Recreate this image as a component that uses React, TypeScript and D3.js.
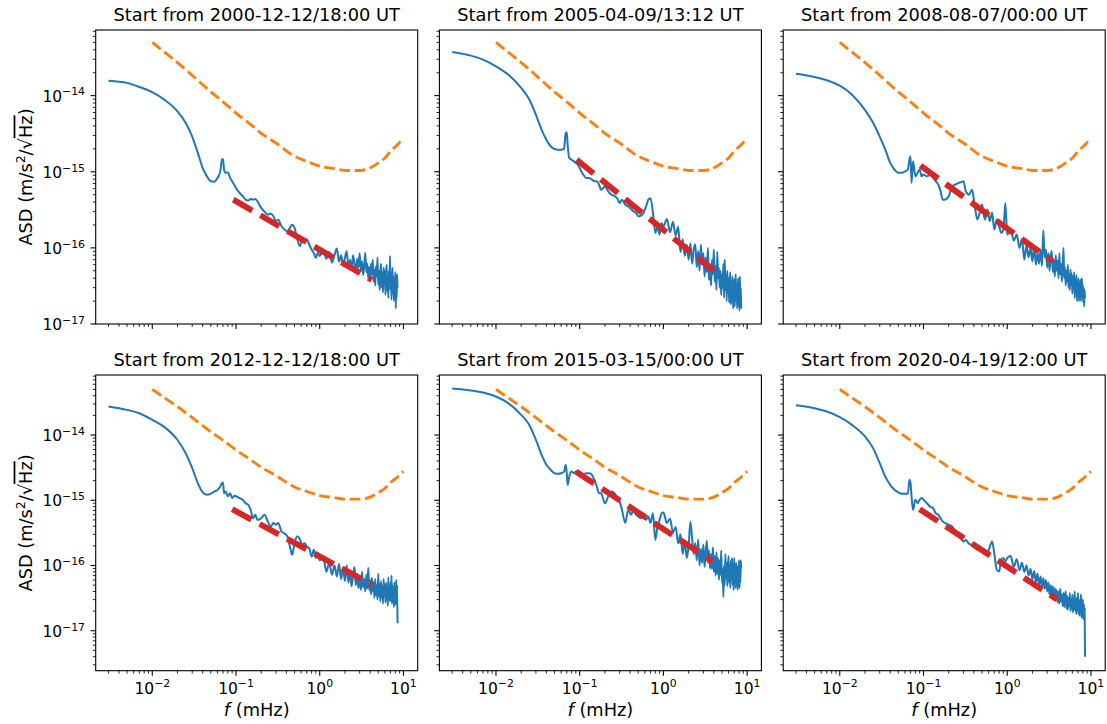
import React from 'react';
import * as d3 from 'd3';

// Frequencies (mHz) shared by all panels
const FREQ = [
  0.003, 0.005, 0.007, 0.01, 0.014, 0.02, 0.025, 0.03, 0.035, 0.04, 0.045, 0.05, 0.055, 0.06, 0.065,
  0.068, 0.07, 0.072, 0.075, 0.08, 0.085, 0.09, 0.095, 0.1, 0.11, 0.12, 0.13, 0.14, 0.15, 0.16, 0.17, 0.18,
  0.2, 0.22, 0.24, 0.26, 0.28, 0.3, 0.32, 0.35, 0.38, 0.41, 0.44, 0.47, 0.5, 0.54, 0.58, 0.62, 0.66, 0.7,
  0.75, 0.8, 0.85, 0.9, 0.95,
  1.0, 1.1, 1.2, 1.3, 1.4, 1.5, 1.6, 1.7, 1.8, 1.9,
  2.0, 2.1, 2.2, 2.3, 2.4, 2.5, 2.6, 2.7, 2.8, 2.9,
  3.0, 3.1, 3.2, 3.3, 3.4, 3.5, 3.6, 3.7, 3.8, 3.9,
  4.0, 4.1, 4.2, 4.3, 4.4, 4.5, 4.6, 4.7, 4.8, 4.9,
  5.0, 5.1, 5.2, 5.3, 5.4, 5.5, 5.6, 5.7, 5.8, 5.9,
  6.0, 6.1, 6.2, 6.3, 6.4, 6.5, 6.6, 6.7, 6.8, 6.9,
  7.0, 7.1, 7.2, 7.3, 7.4, 7.5, 7.6, 7.7, 7.8, 7.9,
  8.0, 8.1, 8.2, 8.3, 8.4, 8.5,
];

// ASD values in units of 1e-16 m/s^2/sqrt(Hz)
const ASD_2000 = [
  157, 147, 130, 111, 88, 62, 44, 29, 17.7, 11.2, 8.7, 7.5, 7.4, 8.3, 10.2,
  14.5, 14.7, 10.7, 9.7, 9.8, 8.3, 7.5, 6.8, 6.1, 5.3, 4.8, 4.3, 4.2, 4.4, 4.3, 4.4, 4.1, 3.35, 2.97, 2.74,
  2.8, 2.6, 2.24, 2.35, 1.92, 1.74, 1.66, 1.83, 2.02, 1.83, 1.29, 1.05, 1.35, 1.16, 1.29, 1.1, 0.95, 0.86, 0.74, 0.86,
  0.78, 0.95, 0.72, 0.88, 0.64, 0.8, 0.98, 0.66, 0.8, 0.58,
  0.74, 0.9, 0.56, 0.7, 0.52, 0.8, 0.62, 0.47, 0.72, 0.55,
  0.85, 0.5, 0.66, 0.44, 0.6, 0.86, 0.48, 0.62, 0.4, 0.56,
  0.38, 0.62, 0.45, 0.7, 0.36, 0.52, 0.32, 0.58, 0.42, 0.75,
  0.33, 0.5, 0.28, 0.46, 0.62, 0.3, 0.48, 0.26, 0.55, 0.34,
  0.5, 0.24, 0.45, 0.6, 0.27, 0.42, 0.22, 0.5, 0.3, 0.78,
  0.28, 0.46, 0.21, 0.4, 0.55, 0.25, 0.42, 0.2, 0.38, 0.27,
  0.48, 0.16, 0.4, 0.22, 0.45, 0.3,
];
const ASD_2005 = [
  374, 335, 297, 243, 189, 126, 89, 56, 35.8, 26.4, 21.6, 19.9, 19.5, 19.5, 19.9,
  32, 33, 21.6, 15.2, 14.4, 13.8, 13.0, 12.4, 11.2, 9.2, 8.3, 8.3, 7.9, 7.5, 7.5, 6.8, 5.8, 6.4, 5.5, 5.0,
  4.8, 4.5, 3.9, 4.3, 3.7, 3.5, 3.25, 3.0, 2.9, 2.6, 2.66, 2.9, 3.5, 4.3, 4.5, 2.9, 1.57, 1.9, 1.5, 2.13,
  1.9, 2.4, 1.6, 2.2, 1.45, 1.9, 0.88, 1.3, 0.78, 1.1,
  0.7, 1.15, 0.62, 0.95, 1.12, 0.56, 0.9, 0.5, 1.1, 0.6,
  0.85, 0.42, 0.75, 0.48, 1.0, 0.38, 0.62, 0.32, 0.7, 0.45,
  0.95, 0.36, 0.58, 0.28, 0.88, 0.4, 0.55, 0.3, 0.5, 0.24,
  0.45, 0.3, 0.62, 0.22, 0.7, 0.28, 0.45, 0.2, 0.5, 0.26,
  0.4, 0.19, 0.35, 0.48, 0.18, 0.32, 0.2, 0.42, 0.16, 0.3,
  0.38, 0.17, 0.28, 0.45, 0.2, 0.32, 0.16, 0.26, 0.4, 0.17,
  0.3, 0.15, 0.42, 0.2, 0.3, 0.16,
];
const ASD_2008 = [
  194, 176, 159, 135, 103, 65, 44, 29, 19.5, 13.1, 10.7, 9.7, 9.7, 10.1, 10.7,
  14.5, 16, 7.1, 13.7, 8.7, 9.7, 10.7, 8.7, 9.2, 8.7, 9.2, 8.3, 7.5, 6.8, 5.55, 4.3, 4.3, 4.76, 6.45, 6.8,
  7.1, 7.3, 7.5, 5.55, 5.0, 5.8, 3.5, 2.36, 2.9, 3.7, 2.36, 3.2, 2.24, 2.9, 1.74, 2.36, 1.92, 1.57, 1.74, 3.9,
  1.5, 1.7, 1.25, 1.5, 1.0, 1.3, 0.7, 1.1, 0.75, 1.0,
  0.66, 1.05, 0.6, 0.85, 0.62, 0.95, 0.58, 1.7, 0.75, 0.95,
  0.55, 0.85, 0.5, 0.78, 0.9, 0.48, 0.7, 0.42, 0.8, 0.5,
  0.68, 0.4, 0.85, 0.45, 0.62, 0.36, 0.55, 1.0, 0.4, 0.55,
  0.32, 0.5, 0.36, 0.6, 0.3, 0.45, 0.28, 0.52, 0.33, 0.46,
  0.25, 0.42, 0.3, 0.48, 0.22, 0.38, 0.26, 0.44, 0.2, 0.36,
  0.28, 0.4, 0.2, 0.34, 0.25, 0.38, 0.2, 0.32, 0.4, 0.22,
  0.33, 0.19, 0.3, 0.17, 0.28, 0.22,
];
const ASD_2012 = [
  274, 243, 216, 171, 132, 84, 53, 31, 18.3, 13.2, 12.1, 12.6, 13.6, 14.4, 16.3,
  18.3, 18.7, 12.8, 13.6, 11.5, 12.8, 10.8, 11.7, 11.5, 10.8, 10.2, 9.0, 8.5, 7.1, 5.3, 6.0, 5.0, 5.3, 6.0, 4.7,
  3.96, 4.5, 4.2, 4.5, 3.3, 3.1, 2.8, 1.95, 1.46, 2.2, 2.8, 2.5, 2.07, 2.2, 1.95, 1.84, 1.37, 1.74, 1.3, 1.55,
  1.2, 1.35, 0.8, 1.1, 0.72, 1.0, 0.68, 1.05, 0.62, 0.92,
  0.58, 1.0, 0.55, 0.82, 0.48, 0.7, 0.95, 0.5, 0.75, 0.45,
  0.68, 0.42, 0.8, 0.46, 0.62, 0.4, 0.72, 0.44, 0.92, 0.42,
  0.6, 0.36, 0.65, 0.4, 0.55, 0.32, 0.62, 0.35, 0.5, 0.3,
  0.75, 0.34, 0.52, 0.28, 0.58, 0.32, 0.48, 0.26, 0.62, 0.35,
  0.5, 0.27, 0.55, 0.3, 0.45, 0.24, 0.66, 0.3, 0.5, 0.28,
  0.55, 0.3, 0.7, 0.26, 0.5, 0.3, 0.45, 0.23, 0.55, 0.3,
  0.48, 0.25, 0.6, 0.3, 0.5, 0.13,
];
const ASD_2015 = [
  517, 482, 449, 390, 308, 204, 143, 84, 50, 35, 29.3, 26, 25.5, 26, 27.5,
  35, 26, 17.2, 23, 27.5, 26, 27.5, 26, 23, 24.5, 26, 26, 24.5, 20.5, 16.3, 12.8, 12.8, 9.0, 11.5, 13.6,
  12.8, 10.8, 9.6, 7.1, 4.5, 7.1, 6.0, 7.1, 6.0, 5.65, 5.3, 6.0, 5.0, 5.65, 4.5, 6.3, 2.47, 3.96, 5.0, 6.3,
  6.5, 4.5, 5.2, 3.2, 3.9, 2.2, 3.0, 1.5, 2.4, 1.3,
  2.0, 4.7, 2.6, 1.5, 2.2, 1.2, 2.5, 1.0, 1.8, 1.1,
  2.1, 0.95, 1.6, 2.4, 1.1, 1.7, 0.9, 1.5, 0.88, 1.9,
  0.8, 1.4, 0.7, 1.6, 0.75, 1.3, 0.6, 1.2, 0.72, 1.7,
  0.55, 0.9, 0.33, 1.0, 0.5, 1.5, 0.65, 1.1, 0.48, 0.9,
  1.4, 0.55, 1.0, 0.45, 1.2, 0.6, 1.3, 0.5, 0.95, 0.42,
  1.3, 0.55, 0.9, 0.45, 1.1, 0.5, 0.85, 0.42, 1.0, 0.5,
  1.2, 0.45, 0.85, 0.55, 1.2, 0.9,
];
const ASD_2020 = [
  287, 258, 229, 188, 143, 95, 63, 37, 23, 17.2, 14.5, 13.2, 12.6, 12.6, 12.6,
  20.6, 18.3, 11.5, 7.1, 10.2, 9.0, 10.2, 10.8, 10.2, 9.0, 8.0, 7.6, 6.3, 6.0, 5.3, 4.7, 4.5, 4.2, 3.96, 3.3,
  2.95, 2.6, 2.33, 2.47, 2.15, 2.07, 1.95, 1.74, 1.9, 1.74, 1.55, 1.55, 1.95, 2.33, 1.55, 0.86, 0.81, 1.22, 1.3, 1.15,
  1.3, 1.4, 0.95, 1.25, 0.85, 1.1, 0.8, 1.0, 0.7, 0.88,
  0.62, 0.82, 0.56, 0.75, 0.5, 0.68, 0.47, 0.64, 0.44, 0.6,
  0.4, 0.55, 0.36, 0.5, 0.34, 0.48, 0.3, 0.45, 0.3, 0.42,
  0.27, 0.4, 0.26, 0.44, 0.28, 0.36, 0.24, 0.38, 0.23, 0.34,
  0.4, 0.22, 0.34, 0.21, 0.32, 0.24, 0.38, 0.2, 0.3, 0.22,
  0.36, 0.19, 0.3, 0.21, 0.4, 0.2, 0.28, 0.18, 0.32, 0.2,
  0.38, 0.18, 0.28, 0.17, 0.3, 0.2, 0.36, 0.16, 0.26, 0.18,
  0.3, 0.15, 0.26, 0.18, 0.22, 0.04,
];

// Requirement curve (orange dashed), units of 1e-16
const REQ_F = [0.01, 0.015, 0.02, 0.03, 0.05, 0.07, 0.1, 0.15, 0.2, 0.3, 0.5, 0.7, 1, 1.5, 2, 3, 4, 5, 6, 7, 8.5, 10];
const REQ_V = [501, 350, 272, 185, 112, 83, 59, 41.6, 32, 23.9, 16, 13.7, 11.8, 11.0, 10.4, 10.4, 11.2, 13.1, 15.2, 18.6, 22.7, 27.8];

// Power-law fits (red dashed): start/end frequency and value (1e-16 units)
const FIT_F0 = [0.093, 0.092, 0.092, 0.09, 0.09, 0.09];
const FIT_F1 = [4.19, 4.0, 3.48, 4.19, 3.89, 3.96];
const FIT_V0 = [4.3, 14.4, 12.0, 7.3, 27.6, 7.3];
const FIT_V1 = [0.38, 0.5, 0.67, 0.51, 1.15, 0.3];

const TITLES = [
  'Start from 2000-12-12/18:00 UT',
  'Start from 2005-04-09/13:12 UT',
  'Start from 2008-08-07/00:00 UT',
  'Start from 2012-12-12/18:00 UT',
  'Start from 2015-03-15/00:00 UT',
  'Start from 2020-04-19/12:00 UT',
];
const SERIES = [ASD_2000, ASD_2005, ASD_2008, ASD_2012, ASD_2015, ASD_2020];

// Layout
const W = 1107;
const H = 724;
const COL_X = [95.7, 439.4, 783.2];
const AX_W = 322;
const ROW_Y = [30, 375];
const AX_H = [294, 295.7];
const X_DOMAIN: [number, number] = [0.00211, 14.8];
const Y_DOMAINS: [number, number][] = [[0.1, 728], [0.0244, 832]];

const FONT = 'DejaVu Sans, sans-serif';
const TICK_FS = 15.5;
const LABEL_FS = 17.8;
const BLUE = '#1f77b4';
const ORANGE = '#ff7f0e';
const RED = '#d62728';

function logTicks(domain: [number, number]) {
  const major: { v: number; e: number }[] = [];
  const minor: number[] = [];
  const e0 = Math.floor(Math.log10(domain[0])) - 1;
  const e1 = Math.ceil(Math.log10(domain[1])) + 1;
  for (let e = e0; e <= e1; e++) {
    for (let m = 1; m <= 9; m++) {
      const v = m * Math.pow(10, e);
      if (v < domain[0] * 0.9999 || v > domain[1] * 1.0001) continue;
      if (m === 1) major.push({ v, e });
      else minor.push(v);
    }
  }
  return { major, minor };
}

function expText(e: number) {
  return e < 0 ? '\u2212' + String(-e) : String(e);
}

function Panel({ idx }: { idx: number }) {
  const col = idx % 3;
  const row = Math.floor(idx / 3);
  const x0 = COL_X[col];
  const y0 = ROW_Y[row];
  const h = AX_H[row];
  const xs = d3.scaleLog().domain(X_DOMAIN).range([x0, x0 + AX_W]);
  const ys = d3.scaleLog().domain(Y_DOMAINS[row]).range([y0 + h, y0]);
  const data = SERIES[idx];

  const blueLine = d3
    .line<number>()
    .x((_, i) => xs(FREQ[i]))
    .y((d) => ys(d))
    .curve(d3.curveMonotoneX)(data) || '';
  const reqLine = d3
    .line<number>()
    .x((_, i) => xs(REQ_F[i]))
    .y((d) => ys(d))
    .curve(d3.curveMonotoneX)(REQ_V) || '';
  const fitLine = d3
    .line<[number, number]>()
    .x((d) => xs(d[0]))
    .y((d) => ys(d[1]))([
      [FIT_F0[idx], FIT_V0[idx]],
      [FIT_F1[idx], FIT_V1[idx]],
    ]) || '';

  const xt = logTicks(X_DOMAIN);
  const yt = logTicks(Y_DOMAINS[row]);
  const bottom = y0 + h;
  const clipId = `clip${idx}`;

  return (
    <g>
      <defs>
        <clipPath id={clipId}>
          <rect x={x0} y={y0} width={AX_W} height={h} />
        </clipPath>
      </defs>
      <g clipPath={`url(#${clipId})`}>
        <path d={blueLine} fill="none" stroke={BLUE} strokeWidth={2} strokeLinejoin="round" />
        <path d={reqLine} fill="none" stroke={ORANGE} strokeWidth={2.9} strokeDasharray="10.7 4.6" />
        <path d={fitLine} fill="none" stroke={RED} strokeWidth={5.9} strokeDasharray="21.8 9.4" />
      </g>
      <rect x={x0} y={y0} width={AX_W} height={h} fill="none" stroke="#000" strokeWidth={1.1} />
      {xt.major.map((t) => (
        <line key={'xM' + t.e} x1={xs(t.v)} x2={xs(t.v)} y1={bottom} y2={bottom + 5.1} stroke="#000" strokeWidth={1.1} />
      ))}
      {xt.minor.map((v, i) => (
        <line key={'xm' + i} x1={xs(v)} x2={xs(v)} y1={bottom} y2={bottom + 2.9} stroke="#000" strokeWidth={0.85} />
      ))}
      {yt.major.map((t) => (
        <line key={'yM' + t.e} x1={x0 - 5.1} x2={x0} y1={ys(t.v)} y2={ys(t.v)} stroke="#000" strokeWidth={1.1} />
      ))}
      {yt.minor.map((v, i) => (
        <line key={'ym' + i} x1={x0 - 2.9} x2={x0} y1={ys(v)} y2={ys(v)} stroke="#000" strokeWidth={0.85} />
      ))}
      {row === 1 &&
        xt.major.map((t) => (
          <text key={'xl' + t.e} x={xs(t.v)} y={bottom + 22.8} textAnchor="middle" fontFamily={FONT} fontSize={TICK_FS}>
            10
            <tspan dy={-6.2} fontSize={TICK_FS * 0.7}>
              {expText(t.e)}
            </tspan>
          </text>
        ))}
      {col === 0 &&
        yt.major.map((t) => (
          <text key={'yl' + t.e} x={x0 - 10.7} y={ys(t.v) + 6} textAnchor="end" fontFamily={FONT} fontSize={TICK_FS}>
            10
            <tspan dy={-6.2} fontSize={TICK_FS * 0.7}>
              {expText(t.e - 16)}
            </tspan>
          </text>
        ))}
      <text x={x0 + AX_W / 2} y={y0 - 9.3} textAnchor="middle" fontFamily={FONT} fontSize={LABEL_FS}>
        {TITLES[idx]}
      </text>
      {row === 1 && (
        <text x={x0 + AX_W / 2} y={716} textAnchor="middle" fontFamily={FONT} fontSize={LABEL_FS}>
          <tspan fontStyle="italic">f</tspan> (mHz)
        </text>
      )}
      {col === 0 && (
        <g transform={`translate(31.6, ${y0 + h / 2}) rotate(-90)`}>
          <text x={0} y={0} textAnchor="middle" fontFamily={FONT} fontSize={LABEL_FS}>
            ASD (m/s
            <tspan dy={-7} fontSize={LABEL_FS * 0.7}>2</tspan>
            <tspan dy={7}>/√</tspan>
            <tspan style={{ textDecoration: 'overline' }}>Hz</tspan>)
          </text>
        </g>
      )}
    </g>
  );
}

export default function App() {
  return (
    <svg
      width={W}
      height={H}
      viewBox={`0 0 ${W} ${H}`}
      style={{ position: 'absolute', left: 0, top: 0, background: '#fff' }}
    >
      <rect x={0} y={0} width={W} height={H} fill="#fff" />
      {[0, 1, 2, 3, 4, 5].map((i) => (
        <Panel key={i} idx={i} />
      ))}
    </svg>
  );
}
